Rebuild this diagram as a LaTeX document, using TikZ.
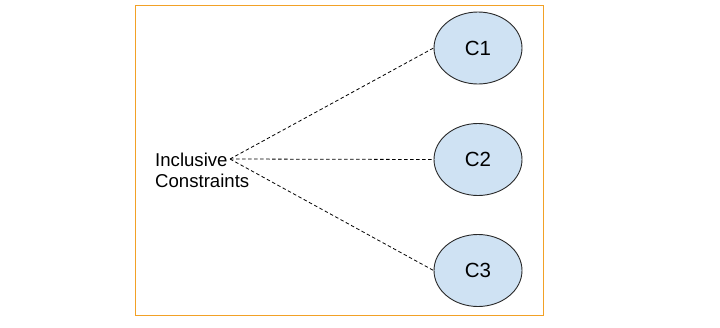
\documentclass[tikz,border=0pt]{standalone}
\usepackage{fontspec}
\setmainfont{Liberation Sans}
\usetikzlibrary{shapes.geometric}
\definecolor{frameorange}{RGB}{242,161,38}
\definecolor{cfill}{RGB}{207,226,243}
\definecolor{cdraw}{RGB}{40,40,40}
\tikzset{
  cell/.style={ellipse, draw=cdraw, fill=cfill, line width=0.9pt, minimum width=88pt, minimum height=72pt, inner sep=0pt, font=\fontsize{20.5}{23}\selectfont},
  link/.style={dashed, dash pattern=on 3.5pt off 2.5pt, line width=0.8pt, draw=black},
}
\begin{document}
\begin{tikzpicture}[x=1pt,y=-1pt]
\useasboundingbox (0,0) rectangle (720,327);
\node[draw=frameorange, line width=1pt, minimum width=408pt, minimum height=310pt, inner sep=0pt] (frame) at (339,160) {};
\node[cell] (c1) at (478,48) {C1};
\node[cell] (c2) at (478,159.5) {C2};
\node[cell] (c3) at (478,270.5) {C3};
\node[anchor=north west, inner sep=0pt, align=left, font=\fontsize{18.6}{21}\selectfont] (lbl) at (155,152.4) {Inclusive\\Constraints};
\coordinate (src) at (230,159);
\draw[link] (src) -- (c1.west);
\draw[link] (src) -- (c2.west);
\draw[link] (src) -- (c3.west);
\end{tikzpicture}
\end{document}
